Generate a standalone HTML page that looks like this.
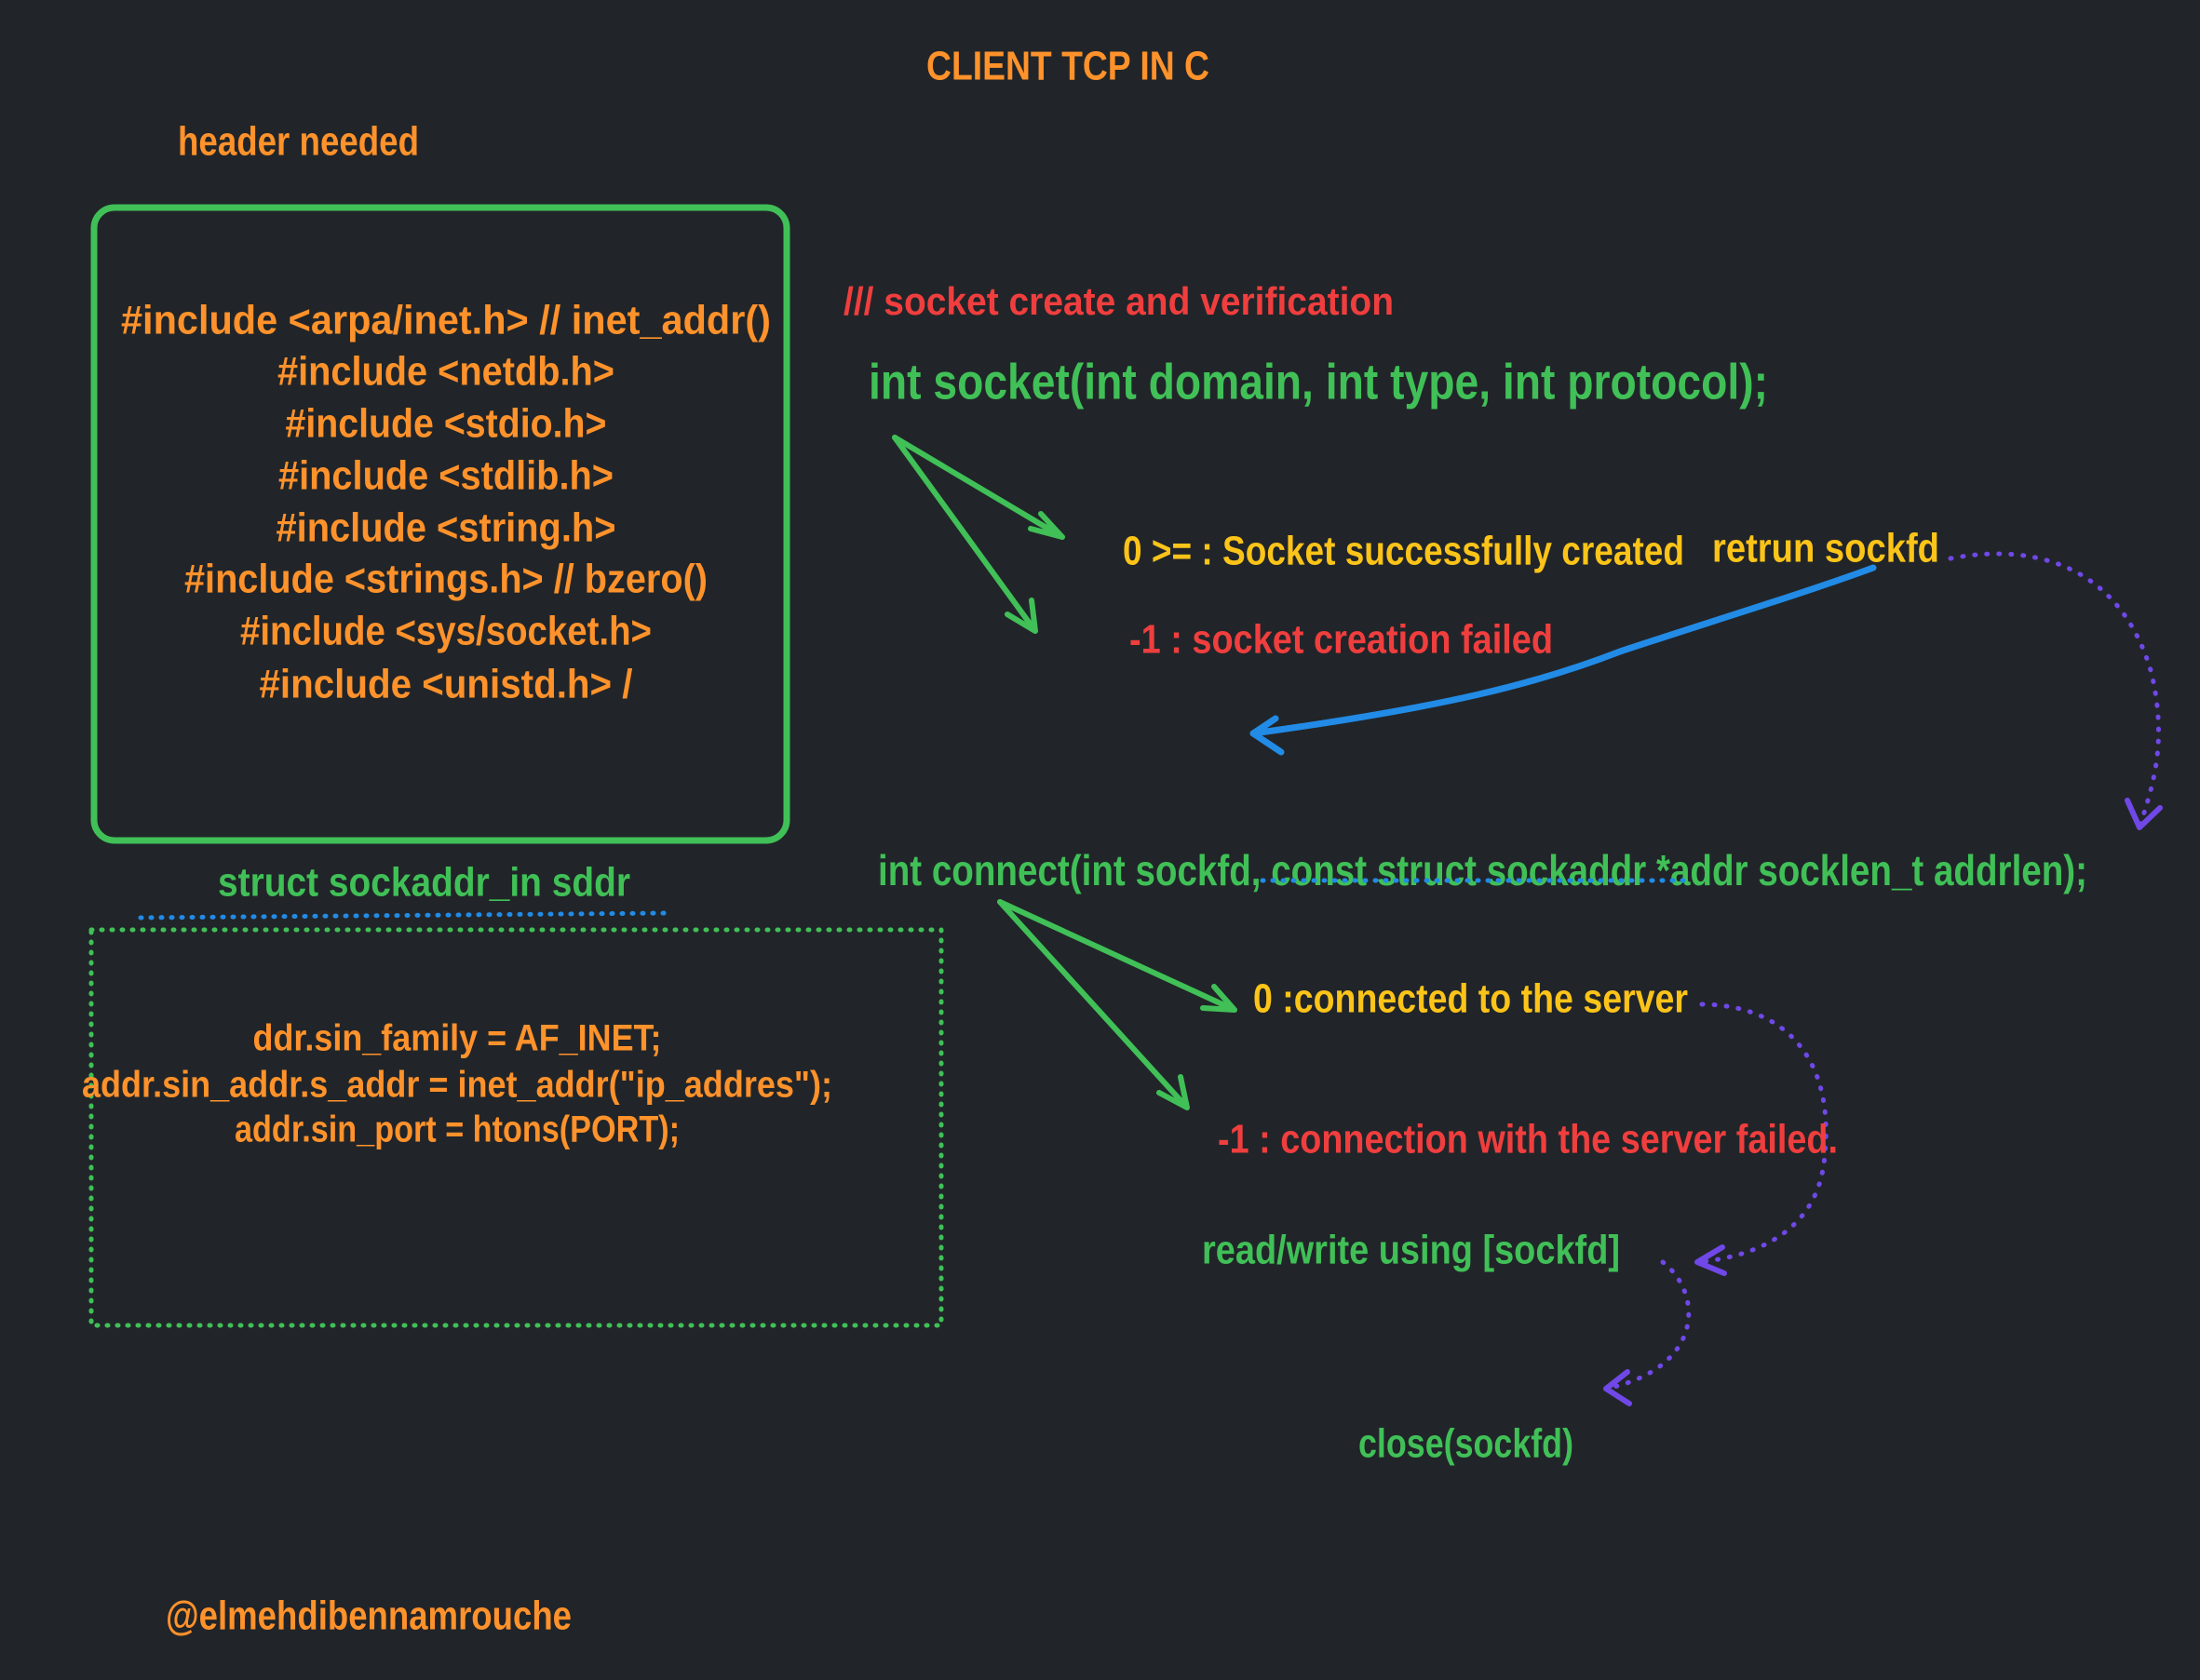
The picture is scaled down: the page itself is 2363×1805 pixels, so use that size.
<!DOCTYPE html>
<html><head><meta charset="utf-8"><style>
html,body{margin:0;padding:0;background:#212529;}
svg{display:block;}
text{font-family:"Liberation Sans Narrow","Liberation Sans",sans-serif;font-weight:bold;dominant-baseline:middle;transform:translateY(3px);}
</style></head><body>
<svg width="2363" height="1805" viewBox="0 0 2363 1805" xmlns="http://www.w3.org/2000/svg">
<rect width="2363" height="1805" fill="#212529"/>
<g fill="#ff922b" font-size="44">
<text x="995" y="71" textLength="304" lengthAdjust="spacingAndGlyphs">CLIENT TCP IN C</text>
<text x="191" y="152" textLength="259" lengthAdjust="spacingAndGlyphs">header needed</text>
</g>
<rect x="101" y="223" width="744" height="680" rx="22" fill="none" stroke="#40c057" stroke-width="7"/>
<g fill="#ff922b" font-size="44" text-anchor="middle">
<text x="479" y="344" textLength="698" lengthAdjust="spacingAndGlyphs">#include &lt;arpa/inet.h&gt; // inet_addr()</text>
<text x="479" y="399" textLength="362" lengthAdjust="spacingAndGlyphs">#include &lt;netdb.h&gt;</text>
<text x="479" y="455" textLength="345" lengthAdjust="spacingAndGlyphs">#include &lt;stdio.h&gt;</text>
<text x="479" y="511" textLength="360" lengthAdjust="spacingAndGlyphs">#include &lt;stdlib.h&gt;</text>
<text x="479" y="567" textLength="365" lengthAdjust="spacingAndGlyphs">#include &lt;string.h&gt;</text>
<text x="479" y="622" textLength="562" lengthAdjust="spacingAndGlyphs">#include &lt;strings.h&gt; // bzero()</text>
<text x="479" y="678" textLength="442" lengthAdjust="spacingAndGlyphs">#include &lt;sys/socket.h&gt;</text>
<text x="479" y="735" textLength="401" lengthAdjust="spacingAndGlyphs">#include &lt;unistd.h&gt; /</text>
</g>
<text x="906" y="324" fill="#f03e3e" font-size="42" textLength="591" lengthAdjust="spacingAndGlyphs">/// socket create and verification</text>
<text x="933" y="411" fill="#40c057" font-size="54" textLength="966" lengthAdjust="spacingAndGlyphs">int socket(int domain, int type, int protocol);</text>
<g stroke="#40c057" stroke-width="6" fill="none" stroke-linecap="round" stroke-linejoin="round">
<path d="M961 470 L1141 577 M1107 568 L1141 577 L1118 552"/>
<path d="M961 470 L1112 678 M1082 660 L1112 678 L1108 645"/>
<path d="M1074 969 L1326 1085 M1292 1083 L1326 1085 L1304 1060"/>
<path d="M1074 969 L1275 1190 M1245 1174 L1275 1190 L1268 1157"/>
</g>
<text x="1206" y="592" fill="#fcc419" font-size="44" textLength="603" lengthAdjust="spacingAndGlyphs">0 &gt;= : Socket successfully created</text>
<text x="1839" y="589" fill="#fcc419" font-size="44" textLength="244" lengthAdjust="spacingAndGlyphs">retrun sockfd</text>
<text x="1213" y="687" fill="#f03e3e" font-size="44" textLength="455" lengthAdjust="spacingAndGlyphs">-1 : socket creation failed</text>
<path d="M2012 610 C1930 640 1830 670 1740 700 C1650 735 1550 760 1346 788 M1370 772 L1346 788 L1376 808" stroke="#228be6" stroke-width="7" fill="none" stroke-linecap="round" stroke-linejoin="round"/>
<g stroke="#7048e8" stroke-width="5" fill="none" stroke-linecap="round" stroke-dasharray="1 12">
<path d="M2095 600 C2200 580 2280 620 2310 720 C2330 800 2310 850 2298 889"/>
<path d="M1828 1079 C1920 1080 1970 1140 1960 1240 C1955 1320 1890 1350 1823 1356"/>
<path d="M1786 1356 C1830 1390 1830 1470 1725 1492"/>
</g>
<g stroke="#7048e8" stroke-width="6" fill="none" stroke-linecap="round" stroke-linejoin="round">
<path d="M2285 860 L2298 889 L2320 868"/>
<path d="M1850 1340 L1823 1356 L1852 1368"/>
<path d="M1748 1474 L1725 1492 L1750 1508"/>
</g>
<text x="943" y="936" fill="#40c057" font-size="46" textLength="1299" lengthAdjust="spacingAndGlyphs">int connect(int sockfd, const struct sockaddr *addr socklen_t addrlen);</text>
<line x1="1356" y1="946" x2="1808" y2="946" stroke="#228be6" stroke-width="5" stroke-dasharray="1 10" stroke-linecap="round"/>
<text x="234" y="948" fill="#40c057" font-size="44" textLength="443" lengthAdjust="spacingAndGlyphs">struct sockaddr_in sddr</text>
<line x1="151" y1="986" x2="720" y2="981" stroke="#228be6" stroke-width="5" stroke-dasharray="1 10" stroke-linecap="round"/>
<rect x="98" y="999" width="913" height="425" fill="none" stroke="#40c057" stroke-width="5" stroke-dasharray="1 10" stroke-linecap="round"/>
<g fill="#ff922b" font-size="40" text-anchor="middle">
<text x="491" y="1115" textLength="439" lengthAdjust="spacingAndGlyphs">ddr.sin_family = AF_INET;</text>
<text x="491" y="1165" textLength="806" lengthAdjust="spacingAndGlyphs">addr.sin_addr.s_addr = inet_addr("ip_addres");</text>
<text x="491" y="1213" textLength="478" lengthAdjust="spacingAndGlyphs">addr.sin_port = htons(PORT);</text>
</g>
<text x="1346" y="1073" fill="#fcc419" font-size="44" textLength="467" lengthAdjust="spacingAndGlyphs">0 :connected to the server</text>
<text x="1308" y="1224" fill="#f03e3e" font-size="44" textLength="666" lengthAdjust="spacingAndGlyphs">-1 : connection with the server failed.</text>
<text x="1291" y="1343" fill="#40c057" font-size="44" textLength="449" lengthAdjust="spacingAndGlyphs">read/write using [sockfd]</text>
<text x="1459" y="1551" fill="#40c057" font-size="44" textLength="231" lengthAdjust="spacingAndGlyphs">close(sockfd)</text>
<text x="178" y="1736" fill="#ff922b" font-size="44" textLength="436" lengthAdjust="spacingAndGlyphs">@elmehdibennamrouche</text>
</svg>
</body></html>
